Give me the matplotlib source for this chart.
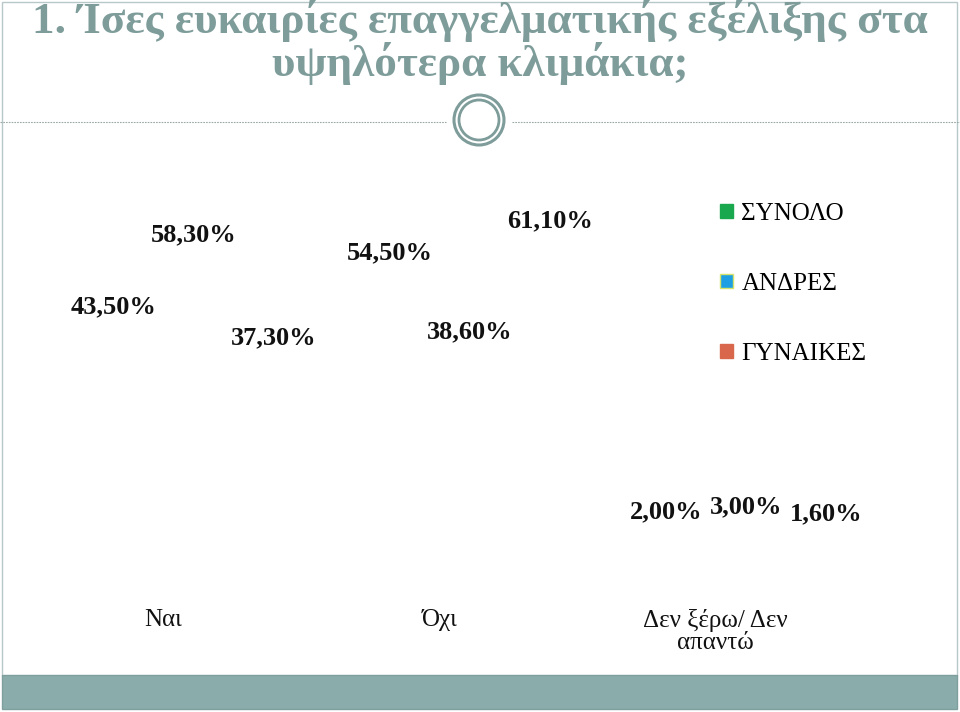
import matplotlib
matplotlib.use("Agg")
import matplotlib.pyplot as plt
from matplotlib.patches import Patch, Rectangle, Ellipse
from matplotlib.lines import Line2D
import numpy as np

# ── data ──────────────────────────────────────────────────────────────────────

categories = ["Ναι", "Όχι", "Δεν ξέρω/ Δεν\nαπαντώ"]
series     = ["ΣΥΝΟΛΟ", "ΑΝΔΡΕΣ", "ΓΥΝΑΙΚΕΣ"]
total      = [43.5, 54.5, 2.0]
men        = [58.3, 38.6, 3.0]
women      = [37.3, 61.1, 1.6]

COLORS     = ["#1aa84f", "#1f9fe3", "#d8674c"]
TEAL       = "#7d9c9a"
SERIF      = "Liberation Serif"

# ── figure / slide decoration ────────────────────────────────────────────────

W, H = 960, 712
fig = plt.figure(figsize=(W / 100, H / 100), dpi=100)

def fx(px):
    return px / W

def fy(py):
    return 1 - py / H

# slide frame
fig.add_artist(Rectangle((fx(2), fy(676)), fx(955), 674 / H, fill=False,
                         edgecolor="#b8c8c8", lw=1))
# bottom band
fig.add_artist(Rectangle((fx(2), fy(709)), fx(955), 34 / H,
                         facecolor="#8aacab", edgecolor="#7f9f9e", lw=1))

# title
fig.text(0.5, fy(42), "1. Ίσες ευκαιρίες επαγγελματικής εξέλιξης στα\nυψηλότερα κλιμάκια;",
         ha="center", va="center", fontsize=32.5, fontweight="bold",
         family=SERIF, color=TEAL, linespacing=1.0)

# dashed divider with double ring
fig.add_artist(Line2D([fx(0), fx(446)], [fy(122), fy(122)], ls=(0, (1.5, 1)),
                      color="#9aa8a8", lw=0.8))
fig.add_artist(Line2D([fx(512), fx(960)], [fy(122), fy(122)], ls=(0, (1.5, 1)),
                      color="#9aa8a8", lw=0.8))
fig.add_artist(Ellipse((fx(479), fy(120)), 50 / W, 50 / H, fill=False,
                       edgecolor=TEAL, lw=2.2))
fig.add_artist(Ellipse((fx(479), fy(120)), 40 / W, 40 / H, fill=False,
                       edgecolor=TEAL, lw=2.0))

# ── chart (bars are not visible in the source, only their labels) ────────────

ax = fig.add_axes([fx(25), fy(537), fx(829), (537 - 160) / H])
x = np.arange(len(categories))
width = 0.29
shift = 0.11

for j, (name, vals) in enumerate(zip(series, [total, men, women])):
    bars = ax.bar(x + shift + (j - 1) * width, vals, width,
                  color=COLORS[j], alpha=0.0, label=name)
    ax.bar_label(bars, labels=[f"{v:.2f}%".replace(".", ",") for v in vals],
                 padding=3, fontsize=19, fontweight="bold", family=SERIF,
                 color="#111111")

ax.set_xlim(-0.5, 2.5)
ax.set_ylim(0, 76.6)
ax.set_xticks(x)
ax.set_xticklabels(categories, fontsize=18, family=SERIF, color="#111111",
                   linespacing=1.0)
ax.tick_params(axis="x", length=0, pad=52)
ax.set_yticks([])
for s in ax.spines.values():
    s.set_visible(False)
ax.patch.set_alpha(0)

handles = [Patch(facecolor=COLORS[0], edgecolor=COLORS[0]),
           Patch(facecolor=COLORS[1], edgecolor="#d6e36b", lw=1),
           Patch(facecolor=COLORS[2], edgecolor=COLORS[2])]
fig.legend(handles, series, loc="upper left", bbox_to_anchor=(fx(710), fy(193)),
           frameon=False, prop={"family": SERIF, "size": 18},
           handlelength=0.5, handleheight=0.5, handletextpad=0.35,
           labelspacing=1.92, borderaxespad=0)

fig.savefig("out.png", dpi=100)
